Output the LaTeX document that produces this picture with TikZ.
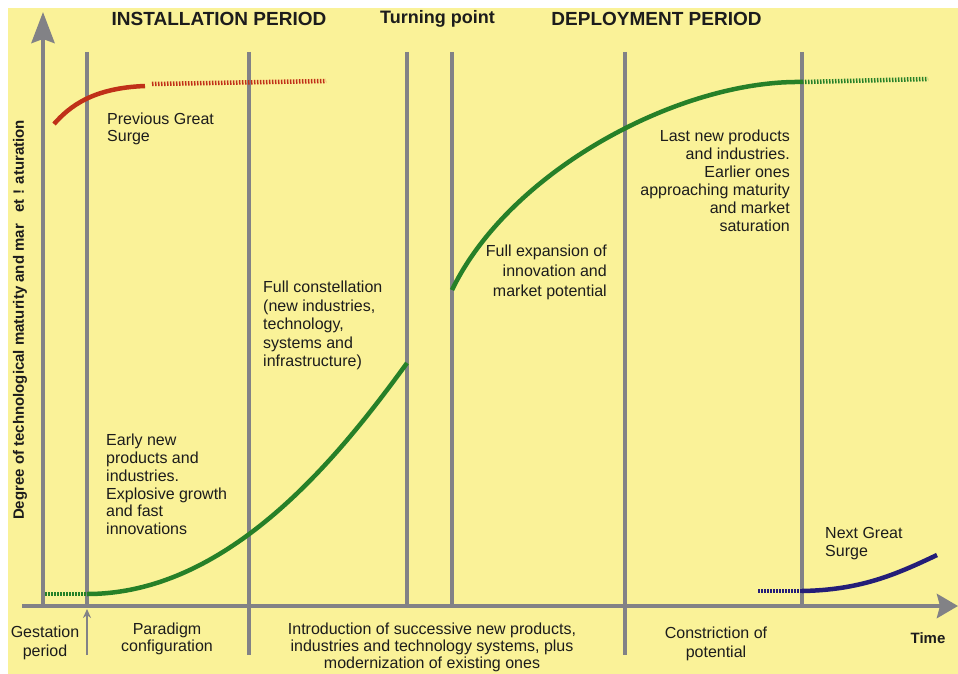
\documentclass[tikz,border=0pt]{standalone}
\usepackage{fontspec}
\setmainfont{Liberation Sans}
\usetikzlibrary{positioning}
\usetikzlibrary{arrows.meta}
\definecolor{bgyel}{RGB}{250,242,152}
\definecolor{lgray}{RGB}{130,130,134}
\definecolor{surgegreen}{RGB}{38,128,40}
\definecolor{surgered}{RGB}{192,48,24}
\definecolor{surgeblue}{RGB}{36,30,120}
\definecolor{ink}{RGB}{28,28,28}
\tikzset{vline/.style={draw=lgray,line width=4pt}}
\tikzset{axis/.style={draw=lgray,line width=4.5pt}}
\tikzset{wave/.style={line width=4.5pt,draw=#1}}
\tikzset{dots/.style={dash pattern=on 1.5pt off 1.5pt}}
\tikzset{txt/.style={inner sep=0pt,text=ink,font=\fontsize{16}{#1}\selectfont},txt/.default=18}
\tikzset{ttl/.style={inner sep=0pt,text=ink,font=\fontsize{#1}{22}\selectfont\bfseries},ttl/.default=19}

\begin{document}
\begin{tikzpicture}[x=1pt,y=-1pt]
\useasboundingbox[fill=white] (0,0) rectangle (958,674);
\fill[bgyel] (8,8) rectangle (958,674);

\foreach \x/\b in {87/606,249/655,407/606,452/606,625/655,802/606}
  \draw[vline] (\x,52) -- (\x,\b);

\coordinate (origin) at (43,606);
\coordinate (ytip) at (43,12);
\coordinate (xstart) at (22,606);
\coordinate (xtip) at (958,606);
\draw[axis,-{Stealth[length=31pt,width=23pt,inset=4pt]}] (origin) -- (ytip);
\draw[axis,-{Stealth[length=21pt,width=24pt,inset=3pt]}] (xstart) -- (xtip);
\coordinate (gest bot) at (87,655);
\coordinate (gest top) at (87,609);
\draw[draw=lgray,line width=2pt,-{Stealth[length=9pt,width=8pt]}] (gest bot) -- (gest top);

\coordinate (r0) at (54,124);
\coordinate (r1) at (145,86);
\coordinate (r2) at (152,84);
\coordinate (r3) at (326,81);
\draw[wave=surgered] (r0) .. controls (70,106) and (93,88) .. (r1);
\draw[wave=surgered,dots] (r2) -- (r3);

\coordinate (g0) at (45,594);
\coordinate (g1) at (87,594);
\coordinate (g2) at (407,363);
\coordinate (g3) at (452,290);
\coordinate (g4) at (802,82);
\coordinate (g5) at (928,79);
\draw[wave=surgegreen,dots] (g0) -- (g1);
\draw[wave=surgegreen] (g1) .. controls (230,594) and (340,455) .. (g2);
\draw[wave=surgegreen] (g3) .. controls (510,170) and (680,80) .. (g4);
\draw[wave=surgegreen,dots] (g4) -- (g5);

\coordinate (b0) at (758,591);
\coordinate (b1) at (802,591);
\coordinate (b2) at (937,555);
\draw[wave=surgeblue,dots] (b0) -- (b1);
\draw[wave=surgeblue] (b1) .. controls (860,590) and (895,575) .. (b2);

\node[ttl,anchor=base] (install) at (219,26) {INSTALLATION PERIOD};
\node[ttl=18,anchor=base] (turning) at (437.5,24) {Turning point};
\node[ttl,anchor=base] (deploy) at (656.5,26) {DEPLOYMENT PERIOD};
\node[ttl=15,rotate=90] (ylabel) at (20,320) {Degree of technological maturity and mar\enspace\ et ! aturation};
\node[ttl=15,anchor=base] (time) at (928,643) {Time};

\node[txt=17,anchor=north west,align=left] (prevsurge) at (107,113) {Previous Great\\Surge};
\node[txt=17.8,anchor=north west,align=left] (early) at (106,434) {Early new\\products and\\industries.\\Explosive growth\\and fast\\innovations};
\node[txt=18.5,anchor=north west,align=left] (constell) at (263,281) {Full constellation\\(new industries,\\technology,\\systems and\\infrastructure)};
\node[txt=20,anchor=north east,align=right] (expansion) at (607,245) {Full expansion of\\innovation and\\market potential};
\node[txt=18,anchor=north east,align=right] (lastnew) at (790,130) {Last new products\\and industries.\\Earlier ones\\approaching maturity\\and market\\saturation};
\node[txt=18,anchor=north west,align=left] (nextsurge) at (825,527) {Next Great\\Surge};

\node[txt=19,anchor=north,align=center] (gestation) at (45,626) {Gestation\\period};
\node[txt=17,anchor=north,align=center] (paradigm) at (167,623) {Paradigm\\configuration};
\node[txt=17,anchor=north,align=center] (intro) at (432,623) {Introduction of successive new products,\\industries and technology systems, plus\\modernization of existing ones};
\node[txt=19,anchor=north,align=center] (constrict) at (716,627) {Constriction of\\potential};
\end{tikzpicture}
\end{document}
